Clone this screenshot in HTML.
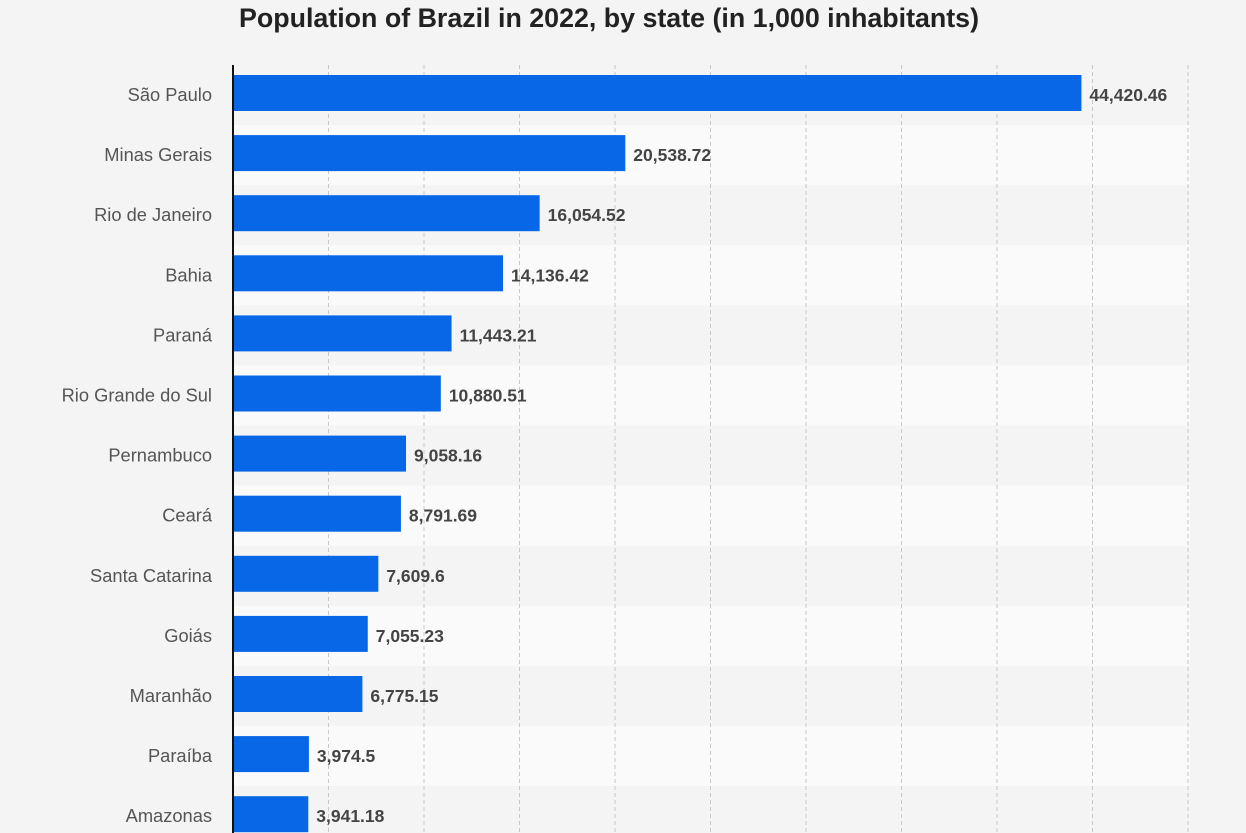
<!DOCTYPE html>
<html><head><meta charset="utf-8"><style>
body{margin:0;background:#f4f4f4;width:1246px;height:833px;overflow:hidden;font-family:"Liberation Sans",sans-serif}
svg{display:block}
</style></head><body>
<svg id="chart" width="1246" height="833" xmlns="http://www.w3.org/2000/svg">
<text x="609" y="27" text-anchor="middle" font-size="26.8" font-weight="bold" fill="#222" font-family="Liberation Sans, sans-serif">Population of Brazil in 2022, by state (in 1,000 inhabitants)</text>
<g id="bands"></g><g id="grid"></g><g id="bars"></g>
<line x1="233" y1="65" x2="233" y2="833" stroke="#111" stroke-width="2"/>
</svg>
<script>
const categories=["São Paulo","Minas Gerais","Rio de Janeiro","Bahia","Paraná","Rio Grande do Sul","Pernambuco","Ceará","Santa Catarina","Goiás","Maranhão","Paraíba","Amazonas"];
const values=[44420.46,20538.72,16054.52,14136.42,11443.21,10880.51,9058.16,8791.69,7609.6,7055.23,6775.15,3974.5,3941.18];
const valueLabels=["44,420.46","20,538.72","16,054.52","14,136.42","11,443.21","10,880.51","9,058.16","8,791.69","7,609.6","7,055.23","6,775.15","3,974.5","3,941.18"];
const gridTicks=[5000,10000,15000,20000,25000,30000,35000,40000,45000,50000];
const NS="http://www.w3.org/2000/svg";
const x0=233,xMax=50000,plotW=955,plotTop=65,rowStep=60.1;
const xs=v=>x0+v/xMax*plotW;
const ys=i=>plotTop+i*rowStep;
function mk(t,a,p){const e=document.createElementNS(NS,t);for(const k in a)e.setAttribute(k,a[k]);p.appendChild(e);return e;}
const bands=document.getElementById('bands'),grid=document.getElementById('grid'),bars=document.getElementById('bars');
categories.forEach((c,i)=>{
  const b=mk('rect',{x:x0,y:ys(i),width:plotW+2,height:rowStep,fill:i%2?'#fafafa':'#f4f4f4'},bands);
  
  
  const r=mk('rect',{x:x0+1,y:ys(i)+10,width:xs(values[i])-x0-1,height:36,fill:'#0867e6'},bars);
  
  
  const l=mk('text',{x:212,y:ys(i)+36,'text-anchor':'end','font-size':18.3,fill:'#555','font-family':'Liberation Sans, sans-serif'},bars);
  l.textContent=c;
  
  
  const v=mk('text',{x:xs(values[i])+8,y:ys(i)+36,'font-size':17.5,'font-weight':'bold',fill:'#444','font-family':'Liberation Sans, sans-serif'},bars);
  v.textContent=valueLabels[i];
  
  
});
gridTicks.forEach(t=>{
  const g=mk('line',{x1:xs(t),x2:xs(t),y1:plotTop,y2:833,stroke:'#c8c8c8','stroke-width':1,'stroke-dasharray':'4,3'},grid);
  
  
});
</script>
</body></html>
